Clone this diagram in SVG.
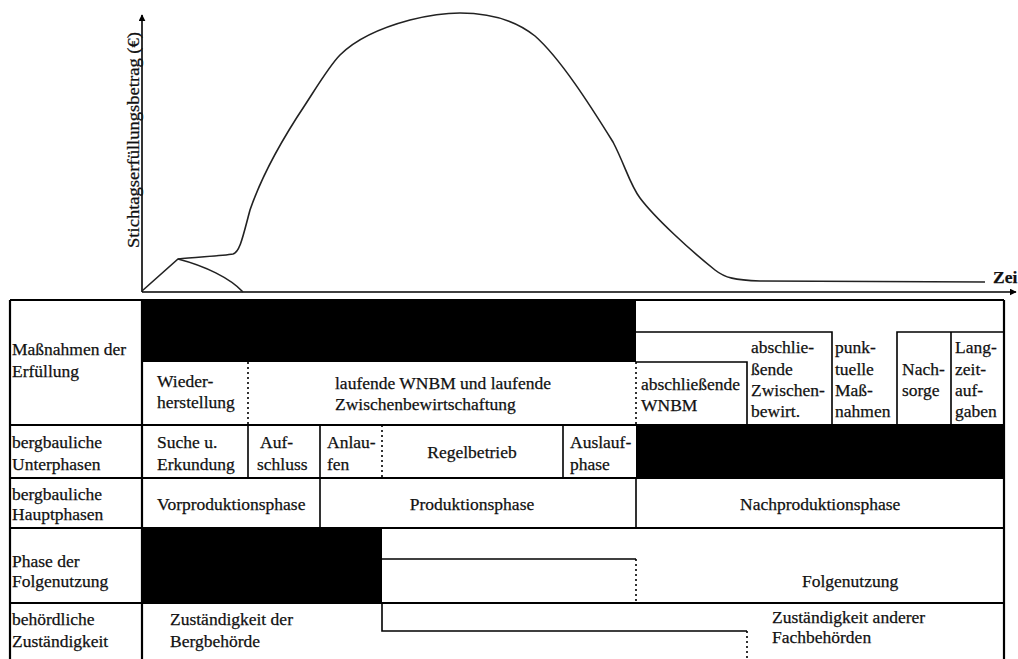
<svg xmlns="http://www.w3.org/2000/svg" width="1018" height="659" viewBox="0 0 1018 659">
<defs>
<marker id="arr" viewBox="0 0 10 10" refX="9" refY="5" markerWidth="7" markerHeight="7" markerUnits="userSpaceOnUse" orient="auto">
<path d="M0,0 L10,5 L0,10 Z" fill="#000"/>
</marker>
<style>
text{font-family:"Liberation Serif","Times New Roman",serif;font-size:17.5px;fill:#111;stroke:#111;stroke-width:0.25}
.ln{stroke:#000;stroke-width:1.6;fill:none}
.bd{stroke:#000;stroke-width:2.2;fill:none}
.dt{stroke:#000;stroke-width:1.6;fill:none;stroke-dasharray:2 3}
.blk{fill:#000}
.cv{stroke:#222;stroke-width:1.6;fill:none}
</style>
</defs>
<rect width="1018" height="659" fill="#fff"/>

<g id="chart">
<line class="ln" x1="142" y1="292" x2="142" y2="15" marker-end="url(#arr)"/>
<line class="ln" x1="142" y1="292" x2="1016" y2="292" marker-end="url(#arr)"/>
<text transform="translate(139,248) rotate(-90)" textLength="216" lengthAdjust="spacingAndGlyphs" style="font-size:16px">Stichtagserfüllungsbetrag (€)</text>
<text x="993" y="283" style="font-weight:bold">Zei</text>
<path class="cv" d="M142,291 L178,259 C195,257 222,256 233,254 C240,252 243,236 250,210 C262,175 285,135 305,105 C318,85 330,65 340,55 C355,40 380,28 410,20 C430,15 445,13 460,13 C490,13 515,20 535,36 C560,58 590,105 613,142 C625,165 630,185 640,198 C655,218 690,250 715,270 C725,278 735,280 760,281 L985,282"/>
<path class="cv" d="M178,259 C205,266 230,278 243,292"/>
</g>

<g id="fills">
<rect class="blk" x="142" y="300" width="494" height="62"/>
<rect class="blk" x="636" y="425" width="368" height="53"/>
<rect class="blk" x="142" y="528" width="240" height="75"/>
</g>

<g id="grid">
<path class="bd" d="M10,300 H1004 M10,300 V659 M1004,300 V659 M142,300 V659"/>
<path class="bd" d="M10,425 H1004 M10,478 H1004 M10,528 H1004 M10,603 H1004"/>
<path class="ln" d="M636,332 H832 V425 M636,362 H747 V425 M897,425 V332 H1004 M951,332 V425"/>
<path class="dt" d="M248,362 V425 M636,362 V425"/>
<path class="ln" d="M248,425 V478 M320,425 V478 M563,425 V478 M320,478 V528 M636,478 V528"/>
<path class="dt" d="M382,425 V478"/>
<path class="ln" d="M382,559 H636"/>
<path class="dt" d="M636,559 V603"/>
<path class="ln" d="M382,603 V631 H747"/>
<path class="dt" d="M747,631 V659"/>
</g>

<g id="row-massnahmen">
<text x="12" y="355">Maßnahmen der</text>
<text x="12" y="377">Erfüllung</text>
<text x="157" y="387">Wieder-</text>
<text x="157" y="408">herstellung</text>
<text x="335" y="389">laufende WNBM und laufende</text>
<text x="335" y="410">Zwischenbewirtschaftung</text>
<text x="641" y="390">abschließende</text>
<text x="641" y="411">WNBM</text>
<text x="751" y="353">abschlie-</text>
<text x="751" y="375">ßende</text>
<text x="751" y="396">Zwischen-</text>
<text x="751" y="417">bewirt.</text>
<text x="835" y="353">punk-</text>
<text x="835" y="375">tuelle</text>
<text x="835" y="396">Maß-</text>
<text x="835" y="417">nahmen</text>
<text x="902" y="375">Nach-</text>
<text x="902" y="396">sorge</text>
<text x="955" y="353">Lang-</text>
<text x="955" y="375">zeit-</text>
<text x="955" y="396">auf-</text>
<text x="955" y="417">gaben</text>
</g>

<g id="row-unterphasen">
<text x="12" y="448">bergbauliche</text>
<text x="12" y="470">Unterphasen</text>
<text x="157" y="448">Suche u.</text>
<text x="157" y="470">Erkundung</text>
<text x="260" y="448">Auf-</text>
<text x="257" y="470">schluss</text>
<text x="327" y="448">Anlau-</text>
<text x="327" y="470">fen</text>
<text x="472" y="458" text-anchor="middle">Regelbetrieb</text>
<text x="570" y="448">Auslauf-</text>
<text x="570" y="470">phase</text>
</g>

<g id="row-hauptphasen">
<text x="12" y="500">bergbauliche</text>
<text x="12" y="520">Hauptphasen</text>
<text x="157" y="510">Vorproduktionsphase</text>
<text x="472" y="510" text-anchor="middle">Produktionsphase</text>
<text x="740" y="510">Nachproduktionsphase</text>
</g>

<g id="row-folgenutzung">
<text x="12" y="567">Phase der</text>
<text x="12" y="587">Folgenutzung</text>
<text x="802" y="587">Folgenutzung</text>
</g>

<g id="row-zustaendigkeit">
<text x="12" y="625">behördliche</text>
<text x="12" y="647">Zuständigkeit</text>
<text x="170" y="625">Zuständigkeit der</text>
<text x="170" y="647">Bergbehörde</text>
<text x="772" y="623">Zuständigkeit anderer</text>
<text x="772" y="643">Fachbehörden</text>
</g>
</svg>
